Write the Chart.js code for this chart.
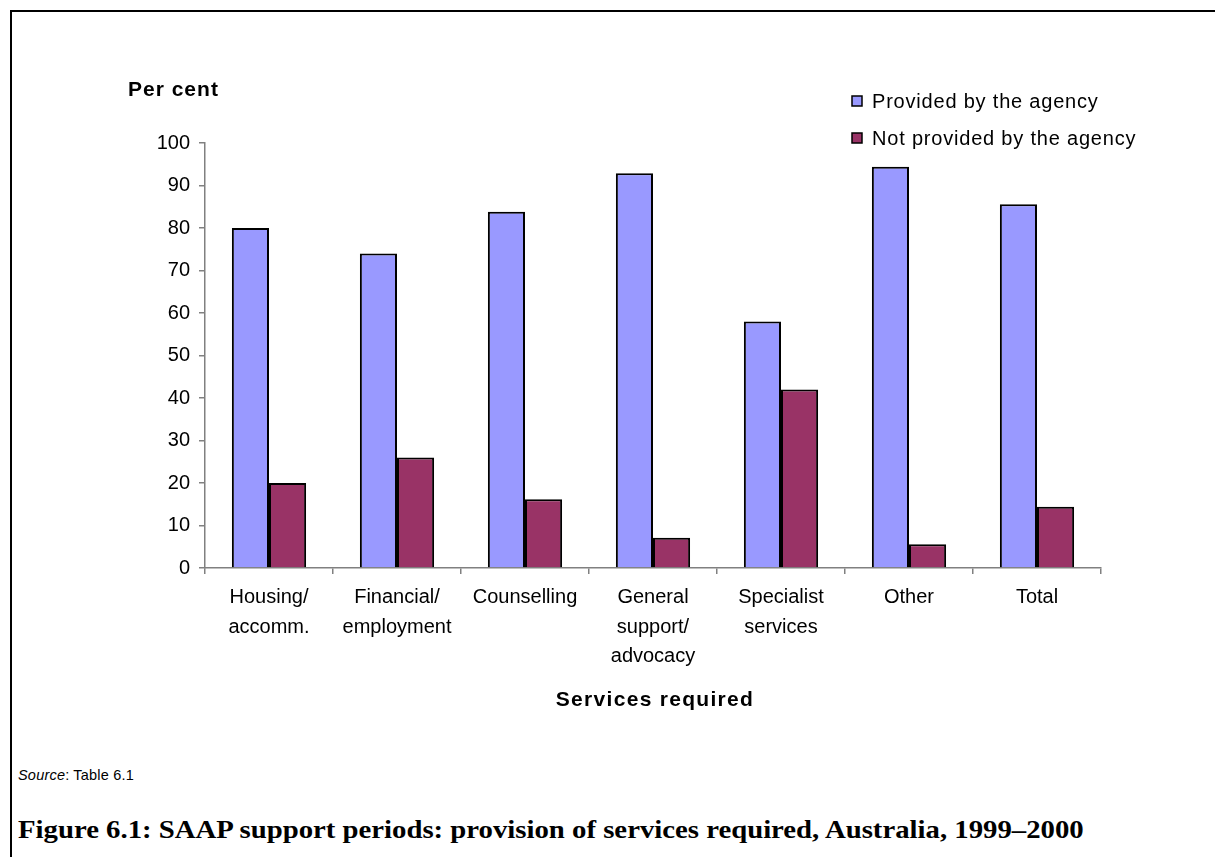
<!DOCTYPE html>
<html>
<head>
<meta charset="utf-8">
<script src="https://cdn.jsdelivr.net/npm/chart.js@4.4.0/dist/chart.umd.min.js"></script>
<style>
  html, body { margin: 0; padding: 0; background: #fff; }
  body { width: 1215px; height: 857px; position: relative; overflow: hidden; font-family: "Liberation Sans", Arial, sans-serif; }
  #frame { position: absolute; left: 10px; top: 10px; width: 1300px; height: 900px; border-left: 2px solid #000; border-top: 2px solid #000; }
  #chart { position: absolute; left: 0; top: 0; }
  #source { position: absolute; left: 18px; top: 767px; font-size: 14.5px; letter-spacing: 0.2px; color: #000; }
  #caption { position: absolute; left: 18px; top: 816px; font-family: "Liberation Serif", serif; font-weight: bold; font-size: 25px; color: #000; white-space: nowrap; transform-origin: 0 0; transform: scaleX(1.15); }
</style>
</head>
<body>
<div id="frame"></div>
<canvas id="chart" width="1215" height="740"></canvas>
<div id="source"><i>Source</i>: Table 6.1</div>
<div id="caption">Figure 6.1: SAAP support periods: provision of services required, Australia, 1999–2000</div>
<script>
const categories = [
    ["Housing/", "accomm."],
    ["Financial/", "employment"],
    ["Counselling"],
    ["General", "support/", "advocacy"],
    ["Specialist", "services"],
    ["Other"],
    ["Total"]
];
const providedValues = [80.0, 74.0, 83.8, 92.9, 58.0, 94.4, 85.6];
const notProvidedValues = [20.0, 26.0, 16.2, 7.1, 42.0, 5.6, 14.4];
const seriesNames = ["Provided by the agency", "Not provided by the agency"];
const seriesColors = ["#9999ff", "#993366"];
const xAxisTitle = "Services required";
const yAxisTitle = "Per cent";

const SANS = "'Liberation Sans', Arial, sans-serif";

// legend, axis titles: drawn by hand so the letter spacing can match
const extraText = {
    id: "extraText",
    afterDraw(chart) {
        const ctx = chart.ctx;
        const area = chart.chartArea;
        ctx.save();
        ctx.fillStyle = "#000";
        ctx.textBaseline = "middle";
        ctx.textAlign = "left";
        ctx.font = "bold 21px " + SANS;
        ctx.letterSpacing = "1px";
        ctx.fillText(yAxisTitle, 128, 90);

        ctx.textAlign = "center";
        ctx.letterSpacing = "1.3px";
        ctx.fillText(xAxisTitle, (area.left + area.right) / 2 + 2, 700);

        ctx.textAlign = "left";
        ctx.font = "20px " + SANS;
        ctx.letterSpacing = "0.8px";
        chart.data.datasets.forEach(function (ds, i) {
            const y = 101 + i * 37;
            ctx.fillStyle = ds.backgroundColor;
            ctx.fillRect(852, y - 5, 10, 10);
            ctx.strokeStyle = "#000";
            ctx.lineWidth = 1.5;
            ctx.strokeRect(852, y - 5, 10, 10);
            ctx.fillStyle = "#000";
            ctx.fillText(ds.label, 872, y + 1);
        });
        ctx.restore();
    }
};

const ctx = document.getElementById("chart").getContext("2d");
new Chart(ctx, {
    type: "bar",
    data: {
        labels: categories,
        datasets: [
            {
                label: seriesNames[0],
                data: providedValues,
                backgroundColor: seriesColors[0],
                borderColor: "#000",
                borderWidth: 2
            },
            {
                label: seriesNames[1],
                data: notProvidedValues,
                backgroundColor: seriesColors[1],
                borderColor: "#000",
                borderWidth: 2
            }
        ]
    },
    options: {
        responsive: false,
        animation: false,
        categoryPercentage: 0.58,
        barPercentage: 1.0,
        layout: {
            padding: { top: 143, right: 114, left: 0, bottom: 27 }
        },
        plugins: {
            legend: { display: false },
            tooltip: { enabled: false }
        },
        scales: {
            x: {
                grid: {
                    offset: true,
                    drawOnChartArea: false,
                    tickLength: 6,
                    color: "#808080",
                    lineWidth: 1.5
                },
                border: { color: "#808080", width: 1.5 },
                ticks: {
                    color: "#000",
                    padding: 9,
                    font: { size: 20, family: SANS, lineHeight: 1.47 }
                },
                afterFit: function (scale) { scale.height = 145; }
            },
            y: {
                min: 0,
                max: 100,
                ticks: {
                    stepSize: 10,
                    color: "#000",
                    padding: 9,
                    font: { size: 20, family: SANS }
                },
                grid: {
                    drawOnChartArea: false,
                    tickLength: 6,
                    color: "#808080",
                    lineWidth: 1.5
                },
                border: { color: "#808080", width: 1.5 },
                afterFit: function (scale) { scale.width = 205; }
            }
        }
    },
    plugins: [extraText]
});
</script>
</body>
</html>
